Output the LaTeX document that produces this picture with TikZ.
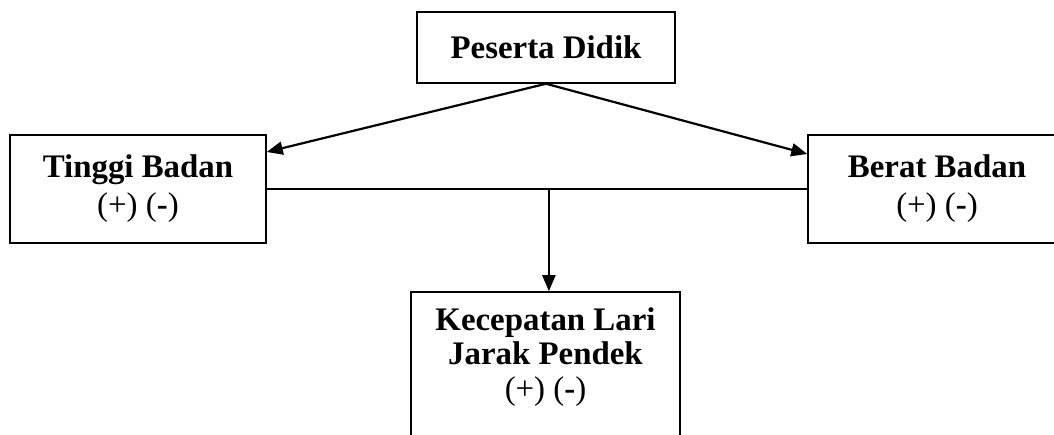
\documentclass[tikz,border=0pt]{standalone}
\usepackage{fontspec}
\setmainfont{Liberation Serif}
\usetikzlibrary{arrows.meta,calc}
\begin{document}
\begin{tikzpicture}[x=1bp,y=-1bp,
  box/.style={draw,line width=1.5bp,inner sep=0pt,align=center,
    font=\fontsize{33}{36}\selectfont\bfseries},
  txt/.style={inner sep=0pt,align=center,font=\fontsize{33}{35}\selectfont\bfseries},
  conn/.style={line width=2.2bp},
  arr/.style={conn,-{Triangle[length=16bp,width=13bp]}}]
\useasboundingbox (0,0) rectangle (1054,435);
\clip (0,0) rectangle (1054,435);
\node[box,minimum width=258bp,minimum height=71bp] (P) at (546,47.5) {Peserta Didik};
\node[box,minimum width=256bp,minimum height=108bp] (L) at (138,189) {Tinggi Badan\\[2bp]{\mdseries(+)} {\mdseries(}-{\mdseries)}};
\node[box,minimum width=258bp,minimum height=108bp] (R) at (937,189) {Berat Badan\\[2bp]{\mdseries(+)} {\mdseries(}-{\mdseries)}};
\node[box,minimum width=269bp,minimum height=150bp] (B) at (545.5,367) {};
\node[txt] (Bt) at (545.5,357) {Kecepatan Lari\\Jarak Pendek\\{\mdseries(+)} {\mdseries(}-{\mdseries)}};
\draw[arr] (P.south) -- ($(L.east)+(0,-37)$);
\draw[arr] (P.south) -- ($(R.west)+(0,-35)$);
\draw[conn] (L.east) -- (R.west);
\coordinate (J) at ($(L.east)!0.522!(R.west)$);
\draw[arr] (J) -- (J |- B.north);
\end{tikzpicture}
\end{document}
